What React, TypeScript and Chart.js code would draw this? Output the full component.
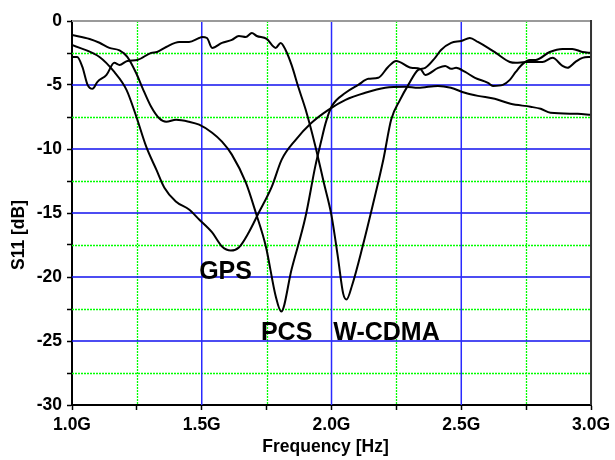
import React, { useEffect, useRef } from 'react';
import { Chart, registerables } from 'chart.js';

Chart.register(...registerables);

// ---- Data (frequency in GHz, S11 in dB) ----
const gpsFreq = [1.0, 1.106, 1.163, 1.21, 1.248, 1.286, 1.325, 1.356, 1.40, 1.451, 1.49, 1.54, 1.578, 1.612, 1.643, 1.681, 1.72, 1.77, 1.808, 1.862, 1.923, 1.988, 2.054, 2.13, 2.207, 2.284, 2.334, 2.41, 2.46, 2.514, 2.564, 2.629, 2.69, 2.767, 2.806, 2.844, 2.948, 3.0];
const gpsS11 = [-1.87, -2.81, -3.98, -5.38, -7.48, -9.82, -11.61, -13.02, -14.1, -14.73, -15.51, -16.52, -17.61, -17.93, -17.69, -16.52, -14.96, -12.94, -10.83, -9.28, -7.95, -6.94, -6.16, -5.61, -5.22, -5.14, -5.22, -5.07, -5.22, -5.61, -5.85, -6.08, -6.47, -6.7, -6.86, -7.17, -7.25, -7.33];

const pcsFreq = [1.0, 1.068, 1.106, 1.144, 1.183, 1.213, 1.248, 1.271, 1.305, 1.336, 1.363, 1.401, 1.451, 1.49, 1.54, 1.578, 1.616, 1.67, 1.708, 1.747, 1.785, 1.806, 1.846, 1.90, 1.938, 1.96, 1.977, 2.0, 2.054, 2.103, 2.142, 2.18, 2.218, 2.249, 2.307, 2.342, 2.361, 2.411, 2.438, 2.461, 2.48, 2.515, 2.553, 2.603, 2.622, 2.66, 2.687, 2.71, 2.737, 2.764, 2.787, 2.841, 2.89, 2.928, 2.967, 3.0];
const pcsS11 = [-1.09, -1.4, -1.7, -2.1, -2.3, -2.8, -4.1, -5.2, -6.7, -7.6, -7.87, -7.72, -7.87, -8.1, -8.73, -9.43, -10.44, -12.63, -14.96, -17.61, -21.51, -22.7, -19.41, -15.28, -11.3, -9.4, -8.0, -6.7, -5.61, -4.99, -4.52, -4.44, -3.59, -3.12, -3.66, -3.74, -4.21, -3.66, -3.51, -3.74, -3.66, -3.98, -4.44, -4.83, -5.07, -4.99, -4.6, -3.98, -3.35, -3.04, -3.04, -2.42, -2.18, -2.18, -2.42, -2.49];

const wcdmaFreq = [1.0, 1.02, 1.04, 1.06, 1.079, 1.098, 1.133, 1.163, 1.183, 1.213, 1.252, 1.305, 1.328, 1.363, 1.413, 1.451, 1.49, 1.501, 1.52, 1.54, 1.578, 1.616, 1.643, 1.67, 1.693, 1.712, 1.75, 1.785, 1.804, 1.823, 1.846, 1.873, 1.90, 1.938, 1.97, 2.0, 2.025, 2.045, 2.058, 2.08, 2.12, 2.16, 2.2, 2.23, 2.264, 2.296, 2.334, 2.361, 2.399, 2.422, 2.461, 2.5, 2.533, 2.564, 2.603, 2.633, 2.687, 2.71, 2.748, 2.813, 2.852, 2.89, 2.909, 2.94, 2.967, 3.0];
const wcdmaS11 = [-2.81, -2.81, -3.59, -4.99, -5.3, -4.75, -4.21, -3.27, -3.43, -3.12, -3.04, -2.49, -2.42, -2.03, -1.64, -1.64, -1.33, -1.25, -1.33, -2.1, -1.71, -1.48, -1.17, -1.25, -0.94, -1.17, -1.4, -2.1, -1.71, -2.26, -3.43, -5.22, -6.9, -9.8, -12.6, -15.2, -18.5, -21.3, -21.75, -20.6, -17.6, -14.3, -10.8, -7.7, -6.16, -4.99, -3.82, -3.66, -2.88, -2.26, -1.71, -1.56, -1.33, -1.64, -2.1, -2.49, -3.2, -3.27, -3.2, -3.2, -2.88, -3.51, -3.66, -3.2, -2.88, -2.81];

// Curve labels
const labelText = ['GPS', 'PCS', 'W-CDMA'];
const labelFreq = [1.49, 1.728, 2.007];
const labelS11 = [-19.64, -24.4, -24.4];

// Axis titles
const xTitle = 'Frequency [Hz]';
const yTitle = 'S11 [dB]';

// Grid values
const majorFreqGrid = [1.5, 2.0, 2.5];
const minorFreqGrid = [1.25, 1.75, 2.25, 2.75];
const majorDbGrid = [-5, -10, -15, -20, -25];
const minorDbGrid = [-2.5, -7.5, -12.5, -17.5, -22.5, -27.5];

const FONT = "'Liberation Sans', Arial, Helvetica, sans-serif";

const toPoints = (xs: number[], ys: number[]) => xs.map((x, i) => ({ x, y: ys[i] }));

const gridPlugin = {
  id: 'customGrid',
  beforeDatasetsDraw(chart: any) {
    const { ctx, chartArea } = chart;
    const xs = chart.scales.x;
    const ys = chart.scales.y;
    ctx.save();
    // minor dotted green
    ctx.strokeStyle = '#00ff00';
    ctx.lineWidth = 1.3;
    ctx.setLineDash([2, 1]);
    minorDbGrid.forEach((v) => {
      const y = Math.round(ys.getPixelForValue(v)) + 0.5;
      ctx.beginPath();
      ctx.moveTo(chartArea.left, y);
      ctx.lineTo(chartArea.right, y);
      ctx.stroke();
    });
    minorFreqGrid.forEach((v) => {
      const x = Math.round(xs.getPixelForValue(v)) + 0.5;
      ctx.beginPath();
      ctx.moveTo(x, chartArea.top);
      ctx.lineTo(x, chartArea.bottom);
      ctx.stroke();
    });
    // major solid blue
    ctx.setLineDash([]);
    ctx.strokeStyle = '#1010ee';
    ctx.lineWidth = 1.5;
    majorDbGrid.forEach((v) => {
      const y = ys.getPixelForValue(v);
      ctx.beginPath();
      ctx.moveTo(chartArea.left, y);
      ctx.lineTo(chartArea.right, y);
      ctx.stroke();
    });
    ctx.strokeStyle = '#2a2aff';
    majorFreqGrid.forEach((v) => {
      const x = xs.getPixelForValue(v);
      ctx.beginPath();
      ctx.moveTo(x, chartArea.top);
      ctx.lineTo(x, chartArea.bottom);
      ctx.stroke();
    });
    ctx.restore();
  },
  afterDatasetsDraw(chart: any) {
    const { ctx, chartArea } = chart;
    const xs = chart.scales.x;
    const ys = chart.scales.y;
    ctx.save();
    // frame: top and right
    ctx.lineWidth = 2;
    ctx.strokeStyle = '#9a9a9a';
    ctx.beginPath();
    ctx.moveTo(chartArea.left, chartArea.top);
    ctx.lineTo(chartArea.right, chartArea.top);
    ctx.stroke();
    ctx.strokeStyle = '#333333';
    ctx.beginPath();
    ctx.moveTo(chartArea.right, chartArea.top - 1);
    ctx.lineTo(chartArea.right, chartArea.bottom);
    ctx.stroke();
    // curve labels
    ctx.fillStyle = '#000';
    ctx.font = `bold 25px ${FONT}`;
    ctx.textAlign = 'left';
    ctx.textBaseline = 'middle';
    labelText.forEach((t, i) => {
      ctx.fillText(t, xs.getPixelForValue(labelFreq[i]), ys.getPixelForValue(labelS11[i]));
    });
    // axis titles
    ctx.font = `bold 17.5px ${FONT}`;
    ctx.textAlign = 'center';
    ctx.textBaseline = 'middle';
    ctx.fillText(xTitle, (chartArea.left + chartArea.right) / 2 - 6, chartArea.bottom + 42);
    ctx.translate(19, (chartArea.top + chartArea.bottom) / 2 + 22);
    ctx.rotate(-Math.PI / 2);
    ctx.fillText(yTitle, 0, 0);
    ctx.restore();
  },
};

export default function App() {
  const ref = useRef<HTMLCanvasElement | null>(null);
  useEffect(() => {
    if (!ref.current) return;
    const mk = (xs: number[], ys: number[]) => ({
      data: toPoints(xs, ys),
      borderColor: '#000',
      borderWidth: 2,
      pointRadius: 0,
      fill: false,
      cubicInterpolationMode: 'monotone' as const,
    });
    const chart = new Chart(ref.current, {
      type: 'line',
      data: {
        datasets: [mk(gpsFreq, gpsS11), mk(pcsFreq, pcsS11), mk(wcdmaFreq, wcdmaS11)],
      },
      options: {
        responsive: false,
        animation: false,
        events: [],
        layout: { padding: { top: 21, right: 21, left: 0, bottom: 0 } },
        plugins: { legend: { display: false }, tooltip: { enabled: false } },
        scales: {
          x: {
            type: 'linear',
            min: 1,
            max: 3,
            afterFit: (s: any) => { s.height = 55; },
            grid: { drawOnChartArea: false, drawTicks: true, tickLength: 5, tickColor: '#000', tickWidth: 1.5 },
            border: { display: true, color: '#000', width: 2 },
            ticks: {
              stepSize: 0.25,
              autoSkip: false,
              maxRotation: 0,
              padding: 5,
              color: '#000',
              font: { family: FONT, size: 17.5, weight: 'bold' },
              callback: (v: any) => {
                const n = Number(v);
                return Math.abs(n * 2 - Math.round(n * 2)) < 1e-6 ? n.toFixed(1) + 'G' : '';
              },
            },
          },
          y: {
            type: 'linear',
            min: -30,
            max: 0,
            afterFit: (s: any) => { s.width = 72; },
            grid: { drawOnChartArea: false, drawTicks: true, tickLength: 5, tickColor: '#000', tickWidth: 1.5 },
            border: { display: true, color: '#000', width: 2 },
            ticks: {
              stepSize: 2.5,
              autoSkip: false,
              padding: 5,
              color: '#000',
              font: { family: FONT, size: 17.5, weight: 'bold' },
              callback: (v: any) => {
                const n = Number(v);
                return Math.abs(n % 5) < 1e-6 ? String(n) : '';
              },
            },
          },
        },
      },
      plugins: [gridPlugin],
    });
    return () => chart.destroy();
  }, []);
  return (
    <div style={{ position: 'fixed', left: 0, top: 0, width: 615, height: 460, background: '#fff' }}>
      <canvas ref={ref} width={615} height={460} style={{ display: 'block' }} />
    </div>
  );
}
